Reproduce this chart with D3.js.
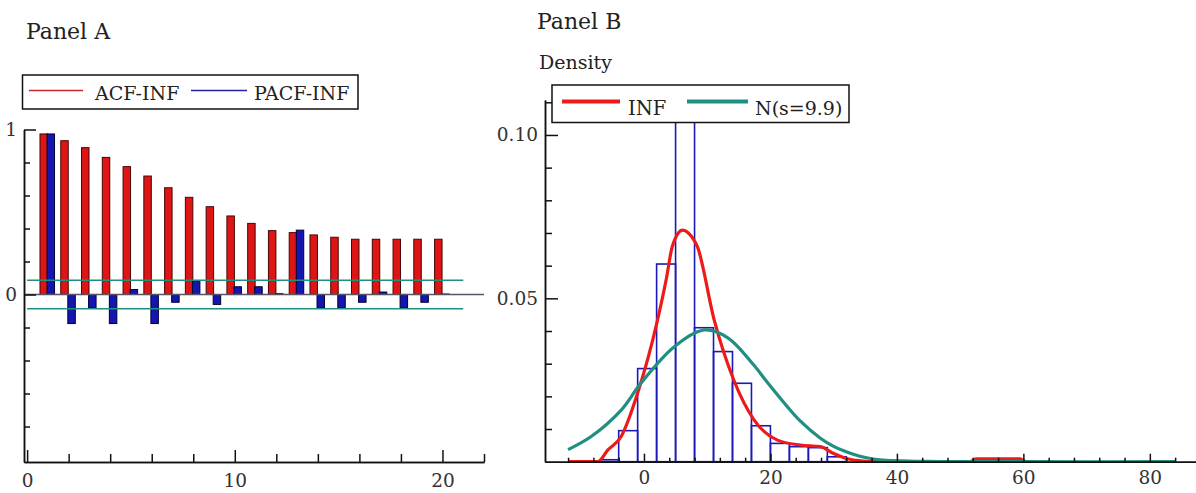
<!DOCTYPE html>
<html>
<head>
<meta charset="utf-8">
<script src="https://cdn.jsdelivr.net/npm/d3@7"></script>
<style>
  html, body { margin: 0; padding: 0; background: #fff; }
  svg { display: block; font-family: "DejaVu Serif", "Liberation Serif", serif; }
</style>
</head>
<body>
<div id="chart"></div>
<script>
// ---- Panel A data (correlogram)
const lags = d3.range(1, 21);
const acfValues = [0.973, 0.932, 0.89, 0.831, 0.775, 0.718, 0.647, 0.589, 0.532, 0.476,
                   0.431, 0.387, 0.375, 0.361, 0.347, 0.335, 0.335, 0.335, 0.335, 0.335];
const pacfValues = [0.973, -0.176, -0.08, -0.176, 0.03, -0.176, -0.047, 0.082, -0.06, 0.047,
                    0.047, 0.005, 0.39, -0.08, -0.08, -0.047, 0.015, -0.08, -0.047, 0.003];
const confBand = 0.087;
const legendA = ["ACF-INF", "PACF-INF"];

// ---- Panel B data (histogram + densities)
const binStarts = [-7, -4, -1, 2, 5, 8, 11, 14, 17, 20, 23, 26, 29];
const binWidth = 3;
const binHeights = [0.0006, 0.0095, 0.0285, 0.0605, 0.125, 0.041, 0.0337, 0.024, 0.011,
                    0.0056, 0.0046, 0.0043, 0.0015];
const infX = [-12, -7.3, -5.7, -3.6, -1, 2.15, 3.5, 4.5, 6.1, 7.5, 8.45, 11.1, 14.2, 17.4,
              21.1, 24.7, 27.9, 30, 32, 34.2, 37, 50, 51.5, 52.5, 56, 59.5, 60.5, 62];
const infY = [0, 0, 0.0036, 0.0077, 0.021, 0.0434, 0.0556, 0.066, 0.0709, 0.069, 0.0658, 0.0434, 0.025, 0.0128,
              0.0066, 0.0051, 0.0046, 0.0025, 0.001, 0.0003, 0, 0, 0, 0.0009, 0.0009, 0.0009, 0, 0];
const normX = [-12, -8.35, -3.6, -0.5, 4.8, 9.5, 13.2, 17.4, 19.5, 22.6, 24.7, 27.9, 30, 33.1,
               35.2, 37.3, 45, 60, 84];
const normY = [0.0037, 0.0077, 0.0158, 0.024, 0.0352, 0.0403, 0.0380, 0.0295, 0.0243, 0.0170,
               0.0125, 0.0072, 0.0047, 0.0023, 0.0012, 0.0006, 0.0001, 0, 0];
const legendB = ["INF", "N(s=9.9)"];

const width = 1196, height = 493;
const svg = d3.select("#chart").append("svg")
    .attr("width", width)
    .attr("height", height);

const red = "#dd1515", darkRed = "#4a0505", blue = "#1515b0", teal = "#1f8f80";

// ================= Panel A
const ax = d3.scaleLinear().domain([-0.15, 22]).range([24, 484]);
const ay = d3.scaleLinear().domain([-1.015, 1]).range([462, 129.5]);

svg.append("text")
    .attr("x", 26).attr("y", 39)
    .style("font-size", "22px").style("fill", "#222")
    .text("Panel A");

const acf = lags.map((k, i) => ({ lag: k, v: acfValues[i] }));
const pacf = lags.map((k, i) => ({ lag: k, v: pacfValues[i] }));

svg.append("g").selectAll("rect")
    .data(acf).enter().append("rect")
    .attr("x", d => ax(d.lag - 0.38))
    .attr("width", d => ax(d.lag - 0.02) - ax(d.lag - 0.38))
    .attr("y", d => ay(Math.max(d.v, 0)))
    .attr("height", d => Math.abs(ay(d.v) - ay(0)))
    .style("fill", red)
    .style("stroke", darkRed)
    .style("stroke-width", 1);

svg.append("g").selectAll("rect")
    .data(pacf).enter().append("rect")
    .attr("x", d => ax(d.lag - 0.04))
    .attr("width", d => ax(d.lag + 0.32) - ax(d.lag - 0.04))
    .attr("y", d => ay(Math.max(d.v, 0)))
    .attr("height", d => Math.abs(ay(d.v) - ay(0)))
    .style("fill", blue)
    .style("stroke", "#000033")
    .style("stroke-width", 1);

[confBand, -confBand].forEach(c => {
    svg.append("line")
        .attr("x1", ax(0)).attr("x2", ax(21))
        .attr("y1", ay(c)).attr("y2", ay(c))
        .style("stroke", teal).style("stroke-width", 1.5);
});
svg.append("line")
    .attr("x1", ax(-0.15)).attr("x2", ax(22))
    .attr("y1", ay(0)).attr("y2", ay(0))
    .style("stroke", "#555566").style("stroke-width", 1.5);

// axes A
const axMinor = d3.range(2, 23, 2).filter(v => v % 10 !== 0);
svg.append("g")
    .attr("transform", `translate(0,${ay(-1.015)})`)
    .call(d3.axisBottom(ax).tickValues(axMinor).tickSizeInner(-8).tickSizeOuter(0).tickFormat(""));
svg.append("g").attr("class", "tick-lab")
    .attr("transform", `translate(0,${ay(-1.015)})`)
    .call(d3.axisBottom(ax).tickValues([0, 10, 20]).tickSizeInner(-12).tickSizeOuter(0).tickPadding(12));

const ayMinor = [-0.8, -0.6, -0.4, -0.2, 0.2, 0.4, 0.6, 0.8];
svg.append("g")
    .attr("transform", `translate(${ax(-0.15)},0)`)
    .call(d3.axisLeft(ay).tickValues(ayMinor).tickSizeInner(-6).tickSizeOuter(0).tickFormat(""));
svg.append("g").attr("class", "tick-lab")
    .attr("transform", `translate(${ax(-0.15)},0)`)
    .call(d3.axisLeft(ay).tickValues([0, 1]).tickSizeInner(-12).tickSizeOuter(0).tickPadding(7)
        .tickFormat(d3.format("d")));

// legend A
const legA = svg.append("g");
legA.append("rect")
    .attr("x", 22.5).attr("y", 75).attr("width", 335.5).attr("height", 34)
    .style("fill", "#fff").style("stroke", "#111").style("stroke-width", 1.5);
legA.append("line").attr("x1", 29).attr("x2", 83).attr("y1", 90.5).attr("y2", 90.5)
    .style("stroke", "#c42a2a").style("stroke-width", 1.5);
legA.append("text").attr("x", 95).attr("y", 100).style("font-size", "19px").style("fill", "#222").text(legendA[0]);
legA.append("line").attr("x1", 191).attr("x2", 247).attr("y1", 90.5).attr("y2", 90.5)
    .style("stroke", "#2323a0").style("stroke-width", 1.5);
legA.append("text").attr("x", 254).attr("y", 100).style("font-size", "19px").style("fill", "#222").text(legendA[1]);

// ================= Panel B
const bx = d3.scaleLinear().domain([-15.65, 87.3]).range([545, 1196]);
const by = d3.scaleLinear().domain([0, 0.1107]).range([461.7, 100]);

svg.append("text")
    .attr("x", 537).attr("y", 29)
    .style("font-size", "22px").style("fill", "#222")
    .text("Panel B");
svg.append("text")
    .attr("x", 539).attr("y", 69)
    .style("font-size", "19px").style("fill", "#222")
    .text("Density");

svg.append("clipPath").attr("id", "clipB")
    .append("rect").attr("x", 545).attr("y", 100).attr("width", 651).attr("height", 362);

const plotB = svg.append("g").attr("clip-path", "url(#clipB)");

plotB.append("g").selectAll("rect")
    .data(binStarts.map((s, i) => ({ x0: s, x1: s + binWidth, h: binHeights[i] })))
    .enter().append("rect")
    .attr("x", d => bx(d.x0))
    .attr("width", d => bx(d.x1) - bx(d.x0))
    .attr("y", d => by(d.h))
    .attr("height", d => by(0) - by(d.h))
    .style("fill", "none")
    .style("stroke", "#1a1ab8")
    .style("stroke-width", 1.6);

const curve = d3.line()
    .x(d => bx(d[0]))
    .y(d => by(d[1]))
    .curve(d3.curveMonotoneX);

plotB.append("path")
    .datum(infX.map((x, i) => [x, infY[i]]))
    .attr("d", curve)
    .style("fill", "none").style("stroke", "#ee1a1a").style("stroke-width", 3.2);

plotB.append("path")
    .datum(normX.map((x, i) => [x, normY[i]]))
    .attr("d", curve.curve(d3.curveCatmullRom.alpha(0.5)))
    .style("fill", "none").style("stroke", teal).style("stroke-width", 3.2);

// axes B
const bxMinor = d3.range(-12, 88, 4).filter(v => v % 20 !== 0);
svg.append("g")
    .attr("transform", `translate(0,${by(0)})`)
    .call(d3.axisBottom(bx).tickValues(bxMinor).tickSizeInner(-4).tickSizeOuter(0).tickFormat(""));
svg.append("g").attr("class", "tick-lab")
    .attr("transform", `translate(0,${by(0)})`)
    .call(d3.axisBottom(bx).tickValues([0, 20, 40, 60, 80]).tickSizeInner(-8).tickSizeOuter(0).tickPadding(9));

const byMinor = [0.01, 0.02, 0.03, 0.04, 0.06, 0.07, 0.08, 0.09, 0.11];
svg.append("g")
    .attr("transform", `translate(${bx(-15.65)},0)`)
    .call(d3.axisLeft(by).tickValues(byMinor).tickSizeInner(-7).tickSizeOuter(0).tickFormat(""));
svg.append("g").attr("class", "tick-lab")
    .attr("transform", `translate(${bx(-15.65)},0)`)
    .call(d3.axisLeft(by).tickValues([0.05, 0.10]).tickSizeInner(-13).tickSizeOuter(0).tickPadding(7)
        .tickFormat(d3.format(".2f")));

// legend B
const legB = svg.append("g");
legB.append("rect")
    .attr("x", 552).attr("y", 85).attr("width", 297).attr("height", 37.5)
    .style("fill", "#fff").style("stroke", "#111").style("stroke-width", 1.5);
legB.append("line").attr("x1", 562).attr("x2", 620).attr("y1", 101.5).attr("y2", 101.5)
    .style("stroke", "#ee1a1a").style("stroke-width", 4);
legB.append("text").attr("x", 628).attr("y", 115).style("font-size", "19.5px").style("fill", "#222").text(legendB[0]);
legB.append("line").attr("x1", 687).attr("x2", 748).attr("y1", 101.5).attr("y2", 101.5)
    .style("stroke", teal).style("stroke-width", 4);
legB.append("text").attr("x", 755).attr("y", 115).style("font-size", "19px").style("fill", "#222").text(legendB[1]);

// axis styling
svg.selectAll(".domain").style("stroke", "#111").style("stroke-width", 1.5);
svg.selectAll(".tick line").style("stroke", "#111").style("stroke-width", 1.5);
svg.selectAll(".tick-lab text")
    .style("font-family", "'DejaVu Serif', serif")
    .style("font-size", "18.5px")
    .style("fill", "#333");
</script>
</body>
</html>
